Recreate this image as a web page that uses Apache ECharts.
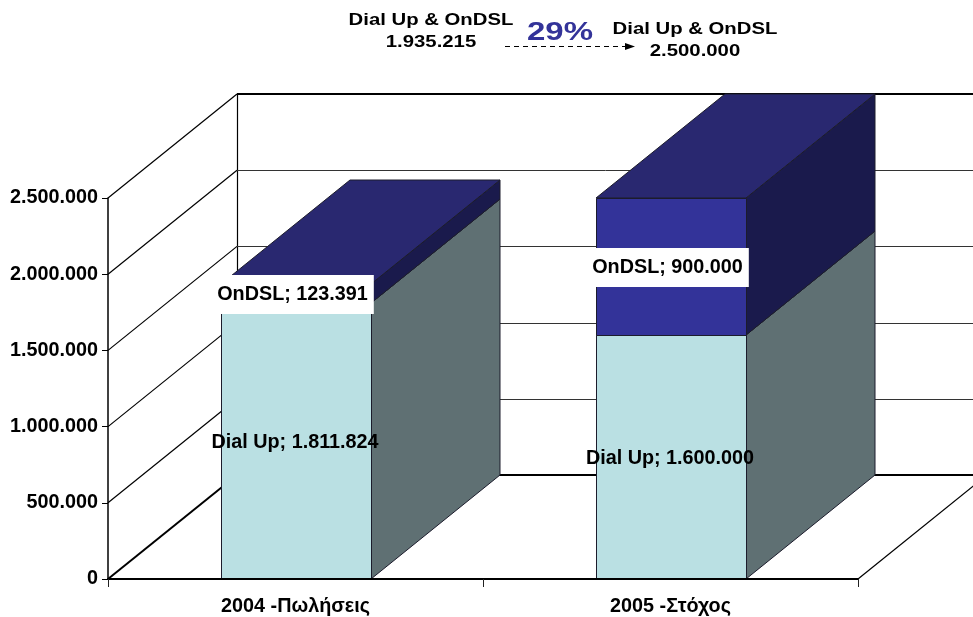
<!DOCTYPE html>
<html>
<head>
<meta charset="utf-8">
<style>html,body{margin:0;padding:0;background:#fff}#main{width:973px;height:617px}</style>
<script src="https://cdn.jsdelivr.net/npm/echarts@6/dist/echarts.min.js"></script>
</head>
<body>
<div id="main"></div>
<script>
var categories = ['2004 -Πωλήσεις', '2005 -Στόχος'];
var dialUp = [1811824, 1600000];
var onDsl = [123391, 900000];
var yTicks = [0, 500000, 1000000, 1500000, 2000000, 2500000];

// how far the back of the box sits from the front plane, in px
var depthX = 129, depthY = 104;
var font = 'Liberation Sans, Arial, sans-serif';

function fmt(v) {
	return String(v).replace(/\B(?=(\d{3})+$)/g, '.');
}

// walls and floor
function renderWall(params, api) {
	var v = api.value(0);
	var y = api.coord([0, v])[1];
	var cs = params.coordSys;
	var left = cs.x, right = cs.x + cs.width;
	var strong = v === 0 || v === yTicks[yTicks.length - 1];
	var style = { stroke: strong ? '#000' : '#333', lineWidth: strong ? 2 : 1, fill: null };
	var backY = Math.round(y - depthY) + (strong ? 0 : 0.5);
	var kids = [
		{ type: 'line', shape: { x1: left, y1: y, x2: left + depthX, y2: y - depthY }, style: { stroke: '#000', lineWidth: v === 0 ? 2 : 1.2 } },
		{ type: 'line', shape: { x1: left + depthX, y1: backY, x2: right + depthX, y2: backY }, style: style }
	];
	if (v === 0) {
		kids.push({ type: 'line', shape: { x1: right, y1: y, x2: right + depthX, y2: y - depthY }, style: { stroke: '#000', lineWidth: 1.2 } });
		var topY = api.coord([0, yTicks[yTicks.length - 1]])[1];
		kids.push({ type: 'line', shape: { x1: left + depthX + 0.5, y1: y - depthY, x2: left + depthX + 0.5, y2: topY - depthY }, style: { stroke: '#000', lineWidth: 1.2 } });
	}
	return { type: 'group', children: kids };
}

// one block of the stack: front, top, side and its label
function makeBlock(name, front, top, side, boxed) {
	return function (params, api) {
		var i = api.value(0);
		var p0 = api.coord([i, api.value(1)]);
		var p1 = api.coord([i, api.value(2)]);
		var w = api.size([1, 0])[0] * 0.4;
		var x0 = Math.round(p0[0] - w / 2), x1 = x0 + Math.round(w);
		var yb = Math.round(p0[1]), yt = Math.round(p1[1]);
		var edge = { stroke: '#1c1c2c', lineWidth: 1 };
		var label = name + '; ' + fmt(api.value(2) - api.value(1));
		var textStyle = {
			text: label,
			x: (x0 + x1) / 2 - 1,
			y: (yb + yt) / 2 + (boxed ? 1 : 2),
			align: 'center',
			verticalAlign: 'middle',
			fontFamily: font,
			fontWeight: 'bold',
			fontSize: 19.8,
			fill: '#000'
		};
		if (boxed) {
			textStyle.backgroundColor = '#fff';
			textStyle.padding = [10, 6, 9, 1];
		}
		return {
			type: 'group',
			children: [
				{ type: 'polygon', shape: { points: [[x1, yb], [x1 + depthX, yb - depthY], [x1 + depthX, yt - depthY], [x1, yt]] }, style: Object.assign({ fill: side }, edge) },
				{ type: 'polygon', shape: { points: [[x0, yt], [x1, yt], [x1 + depthX, yt - depthY], [x0 + depthX, yt - depthY]] }, style: Object.assign({ fill: top }, edge) },
				{ type: 'rect', shape: { x: x0 + 0.5, y: yt + 0.5, width: x1 - x0, height: yb - yt }, style: Object.assign({ fill: front }, edge) },
				{ type: 'text', z2: 50, style: textStyle }
			]
		};
	};
}

var dialRows = [], dslRows = [];
for (var i = 0; i < categories.length; i++) {
	dialRows.push([i, 0, dialUp[i]]);
	dslRows.push([i, dialUp[i], dialUp[i] + onDsl[i]]);
}

function headText(text, x, y) {
	return {
		type: 'text', x: x, y: y, scaleX: 1.27,
		style: { text: text, align: 'center', verticalAlign: 'middle', fontFamily: font, fontWeight: 'bold', fontSize: 16, fill: '#000' }
	};
}

var myChart = echarts.init(document.getElementById('main'));
myChart.setOption({
	animation: false,
	backgroundColor: '#fff',
	grid: { left: 108, right: 115, top: 198, bottom: 38 },
	xAxis: {
		type: 'category',
		data: categories,
		z: 6,
		axisLine: { lineStyle: { color: '#000', width: 2 } },
		axisTick: { show: true, length: 8, lineStyle: { color: '#222', width: 1 } },
		axisLabel: { color: '#000', fontFamily: font, fontWeight: 'bold', fontSize: 19.8, margin: 18 }
	},
	yAxis: {
		type: 'value',
		min: 0,
		max: 2500000,
		interval: 500000,
		splitLine: { show: false },
		axisLine: { show: true, lineStyle: { color: '#000', width: 1.5 } },
		axisTick: { show: true, length: 6, lineStyle: { color: '#000', width: 1 } },
		axisLabel: { color: '#000', fontFamily: font, fontWeight: 'bold', fontSize: 19.8, margin: 10, formatter: fmt }
	},
	series: [
		{ type: 'custom', name: 'walls', z: 1, silent: true, renderItem: renderWall, data: yTicks.map(function (v) { return [v]; }), encode: { y: 0 } },
		{ type: 'custom', name: 'Dial Up', z: 3, silent: true, renderItem: makeBlock('Dial Up', '#bae0e3', '#8fadb0', '#5f7073', false), data: dialRows, encode: { x: 0, y: 2 } },
		{ type: 'custom', name: 'OnDSL', z: 4, silent: true, renderItem: makeBlock('OnDSL', '#333399', '#292870', '#1a1a4c', true), data: dslRows, encode: { x: 0, y: 2 } }
	],
	graphic: [
		headText('Dial Up & OnDSL', 431, 21),
		headText('1.935.215', 431, 43),
		headText('Dial Up & OnDSL', 695, 30),
		headText('2.500.000', 695, 52),
		{
			type: 'text', x: 560, y: 33, scaleX: 1.32,
			style: { text: '29%', align: 'center', verticalAlign: 'middle', fontFamily: font, fontWeight: 'bold', fontSize: 25, fill: '#333399' }
		},
		{ type: 'line', shape: { x1: 505, y1: 46.5, x2: 626, y2: 46.5 }, style: { stroke: '#000', lineWidth: 1, lineDash: [5, 4] } },
		{ type: 'polygon', shape: { points: [[625, 43], [635, 46.5], [625, 50]] }, style: { fill: '#000' } }
	]
});
</script>
</body>
</html>
